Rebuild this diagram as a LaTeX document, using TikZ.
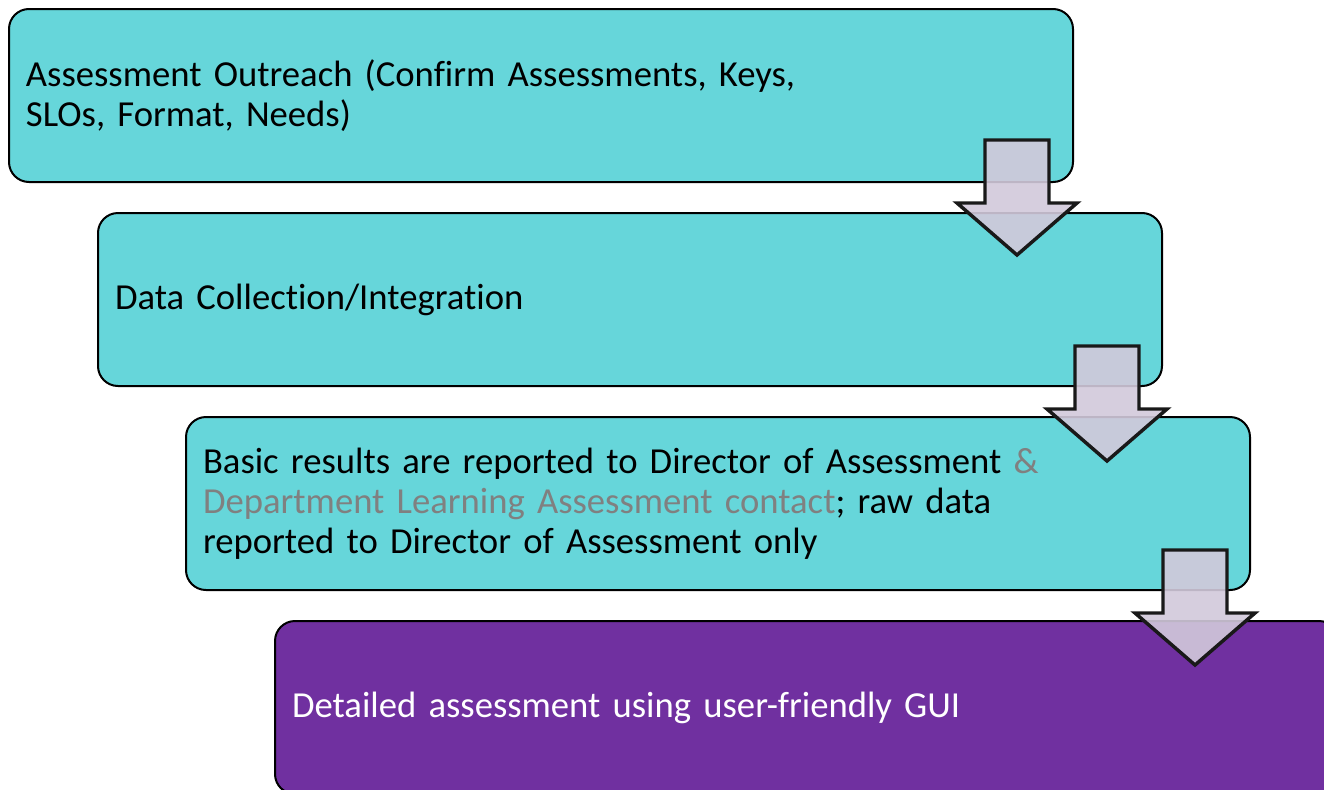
\documentclass[tikz,border=0pt]{standalone}
\usepackage{fontspec}
\setmainfont{Carlito}[Ligatures=NoCommon,WordSpace=0.9]
\usetikzlibrary{calc}
\definecolor{boxcyan}{RGB}{102,214,218}
\definecolor{boxpurple}{RGB}{112,48,160}
\definecolor{arrowfill}{RGB}{210,201,219}
\definecolor{greytext}{RGB}{128,128,128}
\newcommand\blockarrow[1]{\draw[downarrow] (#1) ++(-32,0) -- ++(64,0) -- ++(0,63) -- ++(28,0) -- ++(-60,52) -- ++(-60,-52) -- ++(28,0) -- cycle;}
\begin{document}
\begin{tikzpicture}[x=0.75pt,y=-0.75pt,
  stagebox/.style={draw=black, line width=1.5pt, rounded corners=15pt, anchor=north west,
    minimum height=129.75pt, text width=772.5pt, inner xsep=12.75pt, inner ysep=0pt,
    align=left, font=\fontsize{27.5}{30}\selectfont},
  cyanbox/.style={stagebox, fill=boxcyan, text=black},
  purplebox/.style={stagebox, fill=boxpurple, text=white},
  downarrow/.style={draw=black!90, line width=2.6pt, fill=arrowfill, fill opacity=0.9, line join=miter}]
\useasboundingbox (0,0) rectangle (1324,789);
\clip (0,0) rectangle (1324,789);
\fill[white] (0,0) rectangle (1324,789);
\node[cyanbox] (b1) at (8,8) {Assessment Outreach (Confirm Assessments, Keys,\\SLOs, Format, Needs)};
\node[cyanbox] (b2) at (97,212) {Data Collection/Integration};
\node[cyanbox] (b3) at (185,416) {Basic results are reported to Director of Assessment {\color{greytext}\&}\\{\color{greytext}Department Learning Assessment contact}; raw data\\reported to Director of Assessment only};
\node[purplebox] (b4) at (274,620) {Detailed assessment using user-friendly GUI};
\coordinate (a1) at ($(b1.south east)+(-57,-43)$);
\coordinate (a2) at ($(b2.south east)+(-56,-41)$);
\coordinate (a3) at ($(b3.south east)+(-56,-41)$);
\blockarrow{a1}
\blockarrow{a2}
\blockarrow{a3}
\end{tikzpicture}
\end{document}
